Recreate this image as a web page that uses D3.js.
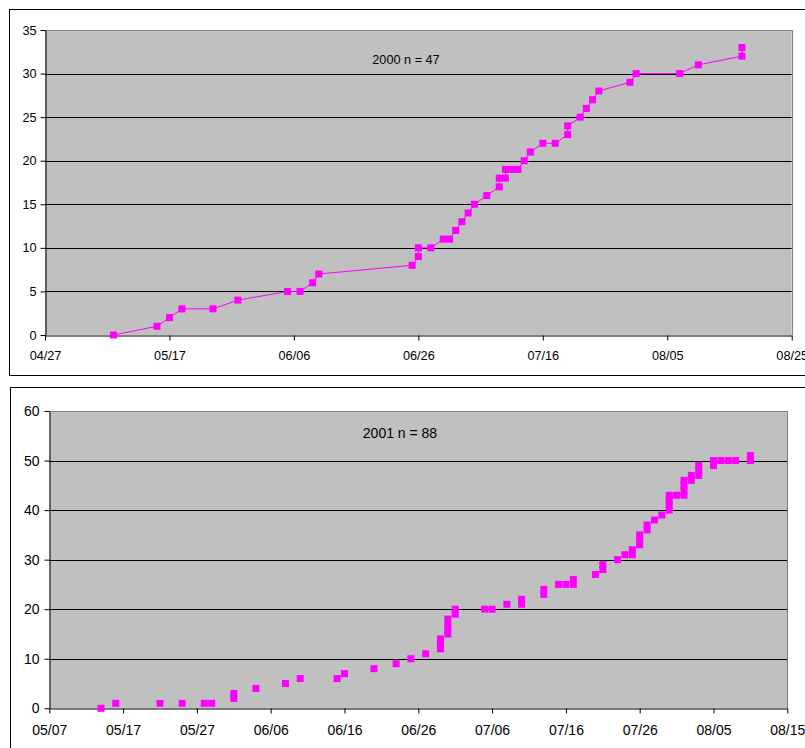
<!DOCTYPE html>
<html>
<head>
<meta charset="utf-8">
<script src="https://cdn.jsdelivr.net/npm/d3@7"></script>
<style>
  body { margin: 0; background: #fff; }
  text { font-family: "Liberation Sans", Arial, sans-serif; }
</style>
</head>
<body>
<script>
// 2000 season: date and cumulative count
const dates2000 = ["05/08", "05/15", "05/17", "05/19", "05/24", "05/28", "06/05", "06/07", "06/09", "06/10",
  "06/25", "06/26", "06/26", "06/28", "06/30", "07/01", "07/02", "07/03", "07/04", "07/05",
  "07/07", "07/09", "07/09", "07/10", "07/10", "07/11", "07/12", "07/13", "07/14", "07/16",
  "07/18", "07/20", "07/20", "07/22", "07/23", "07/24", "07/25", "07/30", "07/31", "08/07",
  "08/10", "08/17", "08/17"];
const values2000 = [0, 1, 2, 3, 3, 4, 5, 5, 6, 7,
  8, 9, 10, 10, 11, 11, 12, 13, 14, 15,
  16, 17, 18, 18, 19, 19, 19, 20, 21, 22,
  22, 23, 24, 25, 26, 27, 28, 29, 30, 30,
  31, 32, 33];
const xTicks2000 = ["04/27", "05/17", "06/06", "06/26", "07/16", "08/05", "08/25"];
const yTicks2000 = [0, 5, 10, 15, 20, 25, 30, 35];

// 2001 season
const dates2001 = ["05/14", "05/16", "05/22", "05/25", "05/28", "05/29", "06/01", "06/01", "06/04", "06/08",
  "06/10", "06/15", "06/16", "06/20", "06/23", "06/25", "06/27", "06/29", "06/29", "06/29",
  "06/30", "06/30", "06/30", "06/30", "07/01", "07/01", "07/05", "07/06", "07/08", "07/10",
  "07/10", "07/13", "07/13", "07/15", "07/16", "07/17", "07/17", "07/20", "07/21", "07/21",
  "07/23", "07/24", "07/25", "07/25", "07/26", "07/26", "07/26", "07/27", "07/27", "07/28",
  "07/29", "07/30", "07/30", "07/30", "07/30", "07/31", "08/01", "08/01", "08/01", "08/01",
  "08/02", "08/02", "08/03", "08/03", "08/03", "08/05", "08/05", "08/06", "08/07", "08/08",
  "08/10", "08/10"];
const values2001 = [0, 1, 1, 1, 1, 1, 2, 3, 4, 5,
  6, 6, 7, 8, 9, 10, 11, 12, 13, 14,
  15, 16, 17, 18, 19, 20, 20, 20, 21, 21,
  22, 23, 24, 25, 25, 25, 26, 27, 28, 29,
  30, 31, 31, 32, 33, 34, 35, 36, 37, 38,
  39, 40, 41, 42, 43, 43, 43, 44, 45, 46,
  46, 47, 47, 48, 49, 49, 50, 50, 50, 50,
  50, 51];
const xTicks2001 = ["05/07", "05/17", "05/27", "06/06", "06/16", "06/26", "07/06", "07/16", "07/26", "08/05", "08/15"];
const yTicks2001 = [0, 10, 20, 30, 40, 50, 60];

const w = 805;
const h = 748;
const magenta = "#FF00FF";

const svg = d3.select("body").append("svg").attr("width", w).attr("height", h);

function drawChart(opt) {
  const parse = d3.timeParse("%Y/%m/%d");
  const toDate = (s) => parse(opt.year + "/" + s);
  const data = opt.dates.map((d, i) => ({ date: toDate(d), value: opt.values[i] }));
  const ticks = opt.xTicks.map(toDate);
  const fs = opt.fontSize;

  // outer frame (runs off the right edge like the original)
  svg.append("rect")
    .attr("x", opt.frame[0]).attr("y", opt.frame[1])
    .attr("width", 900).attr("height", opt.frame[2])
    .attr("fill", "#fff").attr("stroke", "#000").attr("stroke-width", 1);

  const x = d3.scaleTime()
    .domain([ticks[0], ticks[ticks.length - 1]])
    .range([opt.left, opt.right]);
  const y = d3.scaleLinear()
    .domain([0, opt.yTicks[opt.yTicks.length - 1]])
    .range([opt.bottom, opt.top]);

  const g = svg.append("g");

  g.append("rect")
    .attr("x", opt.left).attr("y", opt.top)
    .attr("width", opt.right - opt.left).attr("height", opt.bottom - opt.top)
    .attr("fill", "#C0C0C0");

  // gridlines
  g.selectAll("line.grid")
    .data(opt.yTicks.slice(1, -1))
    .enter()
    .append("line")
    .attr("class", "grid")
    .attr("x1", opt.left).attr("x2", opt.right)
    .attr("y1", (d) => Math.round(y(d)) + 0.5)
    .attr("y2", (d) => Math.round(y(d)) + 0.5)
    .attr("stroke", "#000");

  // gray top / right border of plot
  g.append("path")
    .attr("d", `M${opt.left},${Math.round(opt.top) + 0.5}H${Math.round(opt.right) + 0.5}V${opt.bottom}`)
    .attr("fill", "none").attr("stroke", "#808080");

  const yAxis = d3.axisLeft(y).tickValues(opt.yTicks).tickSize(5).tickSizeOuter(0).tickPadding(opt.yPad);
  g.append("g")
    .attr("transform", `translate(${Math.round(opt.left) + 0.5},0)`)
    .call(yAxis)
    .call((a) => a.selectAll("text").attr("font-size", fs).attr("fill", "#000")
      .attr("font-family", "'Liberation Sans', Arial, sans-serif"));

  const xAxis = d3.axisBottom(x).tickValues(ticks).tickFormat(d3.timeFormat("%m/%d"))
    .tickSize(5).tickSizeOuter(0).tickPadding(opt.xPad);
  g.append("g")
    .attr("transform", `translate(0,${Math.round(opt.bottom) + 0.5})`)
    .call(xAxis)
    .call((a) => a.selectAll("text").attr("font-size", fs).attr("fill", "#000")
      .attr("font-family", "'Liberation Sans', Arial, sans-serif"));

  g.selectAll(".domain, .tick line").attr("stroke", "#000");

  if (opt.line) {
    const line = d3.line().x((d) => x(d.date)).y((d) => y(d.value));
    g.append("path")
      .datum(data)
      .attr("d", line)
      .attr("fill", "none")
      .attr("stroke", magenta)
      .attr("stroke-width", 1);
  }

  g.selectAll("rect.pt")
    .data(data)
    .enter()
    .append("rect")
    .attr("class", "pt")
    .attr("x", (d) => x(d.date) - 3.5)
    .attr("y", (d) => y(d.value) - 3.5)
    .attr("width", 7)
    .attr("height", 7)
    .attr("fill", magenta);

  g.append("text")
    .attr("x", opt.title[1]).attr("y", opt.title[2])
    .attr("text-anchor", "middle")
    .attr("font-size", fs)
    .attr("fill", "#000")
    .text(opt.title[0]);
}

drawChart({
  year: 2000, dates: dates2000, values: values2000,
  xTicks: xTicks2000, yTicks: yTicks2000,
  left: 45, right: 791.7, top: 30, bottom: 335,
  frame: [9.5, 9.5, 366], line: true, fontSize: 12.7, xPad: 10, yPad: 4,
  title: ["2000 n = 47", 406, 63.5]
});

drawChart({
  year: 2001, dates: dates2001, values: values2001,
  xTicks: xTicks2001, yTicks: yTicks2001,
  left: 49.3, right: 787.3, top: 411, bottom: 708.3,
  frame: [10.5, 387.5, 400], line: false, fontSize: 14, xPad: 12, yPad: 5,
  title: ["2001 n = 88", 400, 438]
});
</script>
</body>
</html>
